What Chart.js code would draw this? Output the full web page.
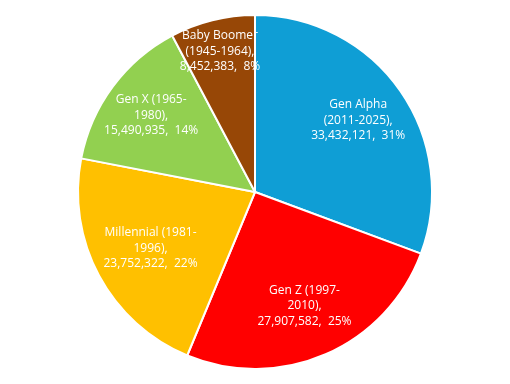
<!DOCTYPE html>
<html>
<head>
<meta charset="utf-8">
<script src="https://cdn.jsdelivr.net/npm/chart.js@4/dist/chart.umd.min.js"></script>
<style>
  html, body { margin: 0; padding: 0; background: #fff; }
  #wrap { width: 510px; height: 384px; }
</style>
</head>
<body>
<div id="wrap"><canvas id="pieChart" width="510" height="384"></canvas></div>
<script>
const CATEGORIES = [
  ["Gen Alpha", "(2011-2025),"],
  ["Gen Z (1997-", "2010),"],
  ["Millennial (1981-", "1996),"],
  ["Gen X (1965-", "1980),"],
  ["Baby Boomer", "(1945-1964),"]
];
const POPULATION = [33432121, 27907582, 23752322, 15490935, 8452383];
const PERCENTS = [31, 25, 22, 14, 8];
const COLORS = ["#0f9ed5", "#ff0000", "#ffc000", "#92d050", "#974706"];

// how far out (fraction of radius) each label sits, like Excel's best fit
const LABEL_R = [0.71, 0.70, 0.67, 0.73, 0.82];

/* Plugin: white multi-line data labels inside each slice. */
const SliceLabels = {
  id: "sliceLabels",
  afterDatasetsDraw(chart) {
    const { ctx } = chart;
    const meta = chart.getDatasetMeta(0);
    ctx.save();
    ctx.font = "12px 'Open Sans', sans-serif";
    ctx.fillStyle = "#ffffff";
    ctx.textAlign = "center";
    ctx.textBaseline = "middle";
    meta.data.forEach((arc, i) => {
      const mid = (arc.startAngle + arc.endAngle) / 2;
      const r = arc.outerRadius * LABEL_R[i];
      const x = arc.x + Math.cos(mid) * r;
      const y = arc.y + Math.sin(mid) * r;
      const lines = CATEGORIES[i].concat(
        POPULATION[i].toLocaleString("en-US") + ",  " + PERCENTS[i] + "%");
      const lh = 15.5;
      lines.forEach((t, k) => {
        ctx.fillText(t, x, y + (k - (lines.length - 1) / 2) * lh);
      });
    });
    ctx.restore();
  }
};

new Chart(document.getElementById("pieChart"), {
  type: "pie",
  data: {
    labels: CATEGORIES,
    datasets: [{ data: POPULATION, backgroundColor: COLORS, borderColor: "#ffffff", borderWidth: 2 }]
  },
  options: {
    responsive: false,
    animation: false,
    layout: { padding: 14 },
    plugins: { legend: { display: false }, tooltip: { enabled: false } }
  },
  plugins: [SliceLabels]
});
</script>
</body>
</html>
